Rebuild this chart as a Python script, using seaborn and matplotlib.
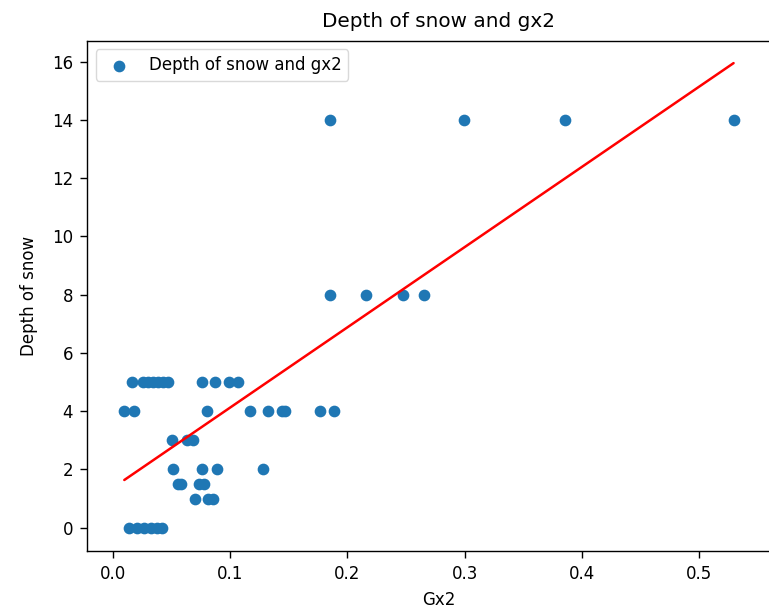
import matplotlib
matplotlib.use("Agg")
import matplotlib.pyplot as plt
import seaborn as sns
import numpy as np
import pandas as pd

# Data
gx2 = [
    # depth 5
    0.0160, 0.0254, 0.0296, 0.0339, 0.0382, 0.0424, 0.0467, 0.0757, 0.0868, 0.0992, 0.1065,
    # depth 4
    0.0094, 0.0173, 0.0800, 0.1167, 0.1321, 0.1441, 0.1466, 0.1765, 0.1885,
    # depth 3
    0.0499, 0.0627, 0.0678,
    # depth 2
    0.0507, 0.0755, 0.0883, 0.1281,
    # depth 1.5
    0.0553, 0.0582, 0.0732, 0.0775,
    # depth 1
    0.0698, 0.0811, 0.0854,
    # depth 0
    0.0134, 0.0202, 0.0262, 0.0322, 0.0373, 0.0416,
    # depth 8
    0.1851, 0.2158, 0.2474, 0.2654,
    # depth 14
    0.1851, 0.2995, 0.3857, 0.5297,
]
depth = (
    [5] * 11 + [4] * 9 + [3] * 3 + [2] * 4 + [1.5] * 4 + [1] * 3 + [0] * 6 + [8] * 4 + [14] * 4
)
fit_slope = 27.51
fit_intercept = 1.379

title = "Depth of snow and gx2"
x_label = "Gx2"
y_label = "Depth of snow"

df = pd.DataFrame({"gx2": gx2, "depth": depth})
line_x = np.array([min(gx2), max(gx2)])
line_df = pd.DataFrame({"x": line_x, "y": fit_intercept + fit_slope * line_x})

sns.set_style("ticks")
plt.rcParams["font.family"] = ["DejaVu Sans"]
plt.rcParams["text.color"] = "black"
plt.rcParams["axes.labelcolor"] = "black"
plt.rcParams["xtick.color"] = "black"
plt.rcParams["ytick.color"] = "black"

fig = plt.figure(figsize=(7.69, 6.10), dpi=100)
W, H = 769, 610
left_px, right_px, top_px, bottom_px = 87.3, 790, 41, 550.7
ax = fig.add_axes([left_px / W, 1 - bottom_px / H, (right_px - left_px) / W, (bottom_px - top_px) / H])

sns.scatterplot(data=df, x="gx2", y="depth", ax=ax, color="#1f77b4", s=52,
                linewidth=1.2, edgecolor="#1f77b4", label=title, zorder=2)
sns.lineplot(data=line_df, x="x", y="y", ax=ax, color="red", linewidth=1.8,
             zorder=3, legend=False)

ax.set_xlim(-0.0222, -0.0222 + (right_px - left_px) / 1171)
ax.set_ylim(-0.79, 16.71)
ax.set_xticks([0.0, 0.1, 0.2, 0.3, 0.4, 0.5])
ax.set_yticks([0, 2, 4, 6, 8, 10, 12, 14, 16])
ax.tick_params(labelsize=12, length=5, width=1.0, pad=5.3, colors="black")
for sp in ax.spines.values():
    sp.set_linewidth(1.0)
    sp.set_color("black")
    sp.set_visible(True)

ax.set_title(title, fontsize=14.4, pad=10, color="black")
ax.set_xlabel(x_label, fontsize=12, labelpad=6)
ax.set_ylabel(y_label, fontsize=12, labelpad=9.8)
leg = ax.legend(loc="upper left", fontsize=12, frameon=True)
leg.get_frame().set_edgecolor("#d0d0d0")
for t in leg.get_texts():
    t.set_color("black")

fig.savefig("out.png", dpi=100)
